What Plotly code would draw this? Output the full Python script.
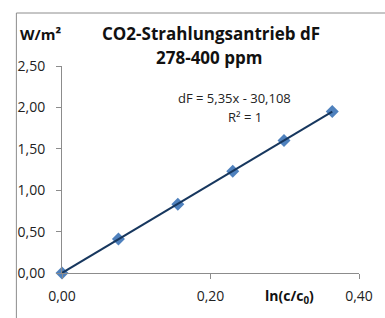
import plotly.graph_objects as go

ln_ratio = [0.0, 0.076, 0.156, 0.230, 0.299, 0.364]
dF = [0.0, 0.41, 0.83, 1.23, 1.60, 1.95]
trend_x = [0.0, 0.364]
trend_y = [0.0, 1.95]

W, H = 385, 318
L, R, T, B = 62, 17, 66, 45
pw, ph = W - L - R, H - T - B

def px(x):
    return (x - L) / pw

def py(y):
    return (H - B - y) / ph

font = "Open Sans, Liberation Sans, Arial"

fig = go.Figure()
fig.add_trace(go.Scatter(x=ln_ratio, y=dF, mode="markers",
                         marker=dict(symbol="diamond", size=10, color="#4F81BD"),
                         showlegend=False, cliponaxis=False))
fig.add_trace(go.Scatter(x=trend_x, y=trend_y, mode="lines",
                         line=dict(color="#17375E", width=2),
                         showlegend=False, cliponaxis=False))

axis_common = dict(showgrid=False, zeroline=False, showline=True, linecolor="#8c8c8c",
                   linewidth=1, ticks="outside", ticklen=5, tickcolor="#8c8c8c",
                   tickformat=".2f", tickfont=dict(size=14, color="#222"),
                   fixedrange=True)

fig.update_layout(
    width=W, height=H,
    margin=dict(l=L, r=R, t=T, b=B),
    paper_bgcolor="white", plot_bgcolor="white",
    separators=",.",
    font=dict(family=font, size=12, color="#222"),
    xaxis=dict(range=[0, 0.40], tickvals=[0, 0.2, 0.4], ticklabelstandoff=5, **axis_common),
    yaxis=dict(range=[0, 2.5], tickvals=[0, 0.5, 1.0, 1.5, 2.0, 2.5], ticklabelstandoff=8,
               **axis_common),
    shapes=[
        dict(type="line", xref="paper", yref="paper", x0=px(15), x1=px(15),
             y0=py(13), y1=py(330), line=dict(color="#8c8c8c", width=1)),
        dict(type="line", xref="paper", yref="paper", x0=px(15), x1=px(400),
             y0=py(13), y1=py(13), line=dict(color="#8c8c8c", width=1)),
    ],
    annotations=[
        dict(text="<b>CO2-Strahlungsantrieb dF</b>", xref="paper", yref="paper",
             x=px(215), y=py(34), showarrow=False, xanchor="center", yanchor="middle",
             font=dict(size=17, family=font, color="#111")),
        dict(text="<b>278-400 ppm</b>", xref="paper", yref="paper",
             x=px(213), y=py(57), showarrow=False, xanchor="center", yanchor="middle",
             font=dict(size=17, family=font, color="#111")),
        dict(text="<b>W/m²</b>", xref="paper", yref="paper", x=px(17), y=py(34),
             showarrow=False, xanchor="left", yanchor="middle",
             font=dict(size=15, family=font, color="#111")),
        dict(text="<b>ln(c/c<sub>0</sub>)</b>", xref="paper", yref="paper", x=px(296), y=py(296),
             showarrow=False, xanchor="center", yanchor="middle",
             font=dict(size=14, family=font, color="#111")),
        dict(text="dF = 5,35x - 30,108", xref="paper", yref="paper", x=px(240), y=py(98),
             showarrow=False, xanchor="center", yanchor="middle",
             font=dict(size=13, family=font, color="#222")),
        dict(text="R² = 1", xref="paper", yref="paper", x=px(251), y=py(117),
             showarrow=False, xanchor="center", yanchor="middle",
             font=dict(size=13, family=font, color="#222")),
    ],
)

fig.write_html("out.html", config={"displayModeBar": False},
               post_script="document.body.style.margin='0';document.body.style.overflow='hidden';")
